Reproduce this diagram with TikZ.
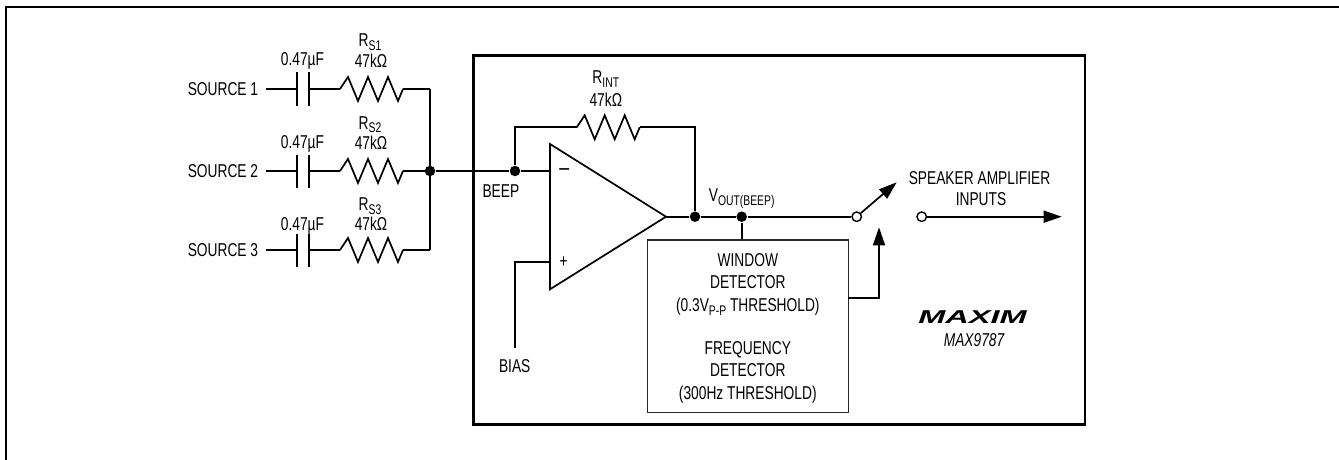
\documentclass[tikz,border=0pt]{standalone}
\usepackage{fontspec}
\setmainfont{Liberation Sans}[FakeStretch=0.74]
\newfontfamily\logofont{Liberation Sans}[FakeStretch=1.75]
\usetikzlibrary{arrows.meta}
\newcommand\subtxt[1]{\raisebox{-0.2em}{\fontsize{14}{14}\selectfont #1}}
\begin{document}
\begin{tikzpicture}[x=1pt,y=-1pt,line width=1.7pt,
  every node/.style={inner sep=0pt,font=\fontsize{18.6}{22}\selectfont},
  dot/.style={circle,fill=black,draw=none,inner sep=0pt,minimum size=10.5pt},
  odot/.style={circle,draw=black,fill=white,inner sep=0pt,minimum size=9.5pt,line width=1.4pt},
  lab/.style={anchor=base},
  tip/.style={-{Triangle[length=18pt,width=12pt]}},
  resistor/.pic={\draw[line width=1.7pt,miter limit=10] (0,0) -- (8,-12) -- (18,12) -- (28,-12) -- (38,12) -- (48,-12) -- (58,12) -- (63,0);},
  boxline/.style={draw=black!85,line width=1.3pt}]
\useasboundingbox (0,0) rectangle (1339,460);
% outer frame
\draw[line width=2.2pt] (6,475) -- (6,7) -- (1350,7);
% inner chip box
\draw[line width=2.6pt] (473.3,55.7) rectangle (1085,424.5);
% sources
\foreach \i/\y/\ry/\ky/\cy in {1/89/40.5/61.5/59.5, 2/171/122.5/143.3/141.7, 3/250/204/224/224}{
  \node[anchor=east] (src\i) at (259,\y) {SOURCE \i};
  \coordinate (w\i) at (266,\y);
  \coordinate (ca\i) at (296.7,\y);
  \coordinate (cb\i) at (309.3,\y);
  \coordinate (ra\i) at (340,\y);
  \coordinate (rb\i) at (403,\y);
  \coordinate (bus\i) at (430,\y);
  \draw (w\i) -- (ca\i);
  \draw (ca\i) ++(0,-16.5) -- ++(0,33);
  \draw (cb\i) ++(0,-16.5) -- ++(0,33);
  \draw (cb\i) -- (ra\i);
  \pic at (ra\i) {resistor};
  \draw (rb\i) -- (bus\i);
  \node[lab] (cap\i) at (302.5,\cy+6.5) {0.47µF};
  \node[lab] (rv\i) at (371,\ky+6.5) {47kΩ};
  \node[lab] (rn\i) at (370,\ry+6.5) {R\subtxt{S\i}};
}
\draw (bus1) -- (bus3);
\node[dot] (j) at (bus2) {};
\node[dot] (beep) at (515,171) {};
\draw (j) -- (beep);
\node[anchor=base west] (beeplbl) at (481.7,197.3) {BEEP};
% op amp
\coordinate (oa1) at (550,144);
\coordinate (oa2) at (550,289.3);
\coordinate (oatip) at (666,216.7);
\draw[miter limit=10] (oa1) -- (oa2) -- (oatip) -- cycle;
\coordinate (inm) at (550,171);
\coordinate (inp) at (550,262.3);
\draw (beep) -- (inm);
\node (minus) at (564.2,172) {\fontsize{24}{24}\selectfont –};
\node (plus) at (563.7,262.3) {+};
\coordinate (biasb) at (515,348.3);
\draw (inp) -| (biasb);
\node[lab] (bias) at (514.7,372.6) {BIAS};
% feedback
\coordinate (fb1) at (515,127.3);
\coordinate (ria) at (576.7,127.3);
\coordinate (rib) at (639.7,127.3);
\coordinate (fb2) at (695,127.3);
\node[dot] (vo1) at (695,216.7) {};
\node[dot] (vo2) at (741.7,216.7) {};
\draw (beep) -- (fb1) -- (ria);
\pic at (ria) {resistor};
\draw (rib) -- (fb2) -- (vo1);
\draw (oatip) -- (vo1) -- (vo2);
\node[lab] (rint) at (605.8,77.2+6.5) {R\subtxt{INT}};
\node[lab] (rintv) at (605.8,99.8+6.5) {47kΩ};
\node[lab] (vout) at (741.7,201.7) {V\subtxt{OUT(BEEP)}};
% switch
\node[odot] (swa) at (856.7,216.7) {};
\node[odot] (swb) at (921.7,216.7) {};
\draw (vo2) -- (swa);
\coordinate (swtip) at (896.7,182.3);
\draw[tip] (swa) -- (swtip);
\coordinate (outtip) at (1061.7,216.7);
\draw[tip] (swb) -- (outtip);
\node[lab] (spk1) at (979.5,184.8) {SPEAKER AMPLIFIER};
\node[lab] (spk2) at (981,205.8) {INPUTS};
% detector
\node[boxline, minimum width=201pt, minimum height=172.3pt] (det) at (747.8,326.15) {};
\draw (vo2) -- (vo2 |- det.north);
\coordinate (detout) at (848.3,298.3);
\coordinate (ctl) at (879,227.3);
\draw[tip] (detout) -| (ctl);
\node[lab] at (747.8,266.5) {WINDOW};
\node[lab] at (747.8,288.8) {DETECTOR};
\node[lab] at (747.8,311.5) {(0.3V\subtxt{P-P} THRESHOLD)};
\node[lab] at (747.8,354.8) {FREQUENCY};
\node[lab] at (747.8,376.5) {DETECTOR};
\node[lab] at (747.8,399.2) {(300Hz THRESHOLD)};
% logo
\node[lab] (logo) at (972.5,323) {\logofont\bfseries\itshape MAXIM};
\node[lab] (part) at (974,346.5) {\itshape MAX9787};
\end{tikzpicture}
\end{document}
